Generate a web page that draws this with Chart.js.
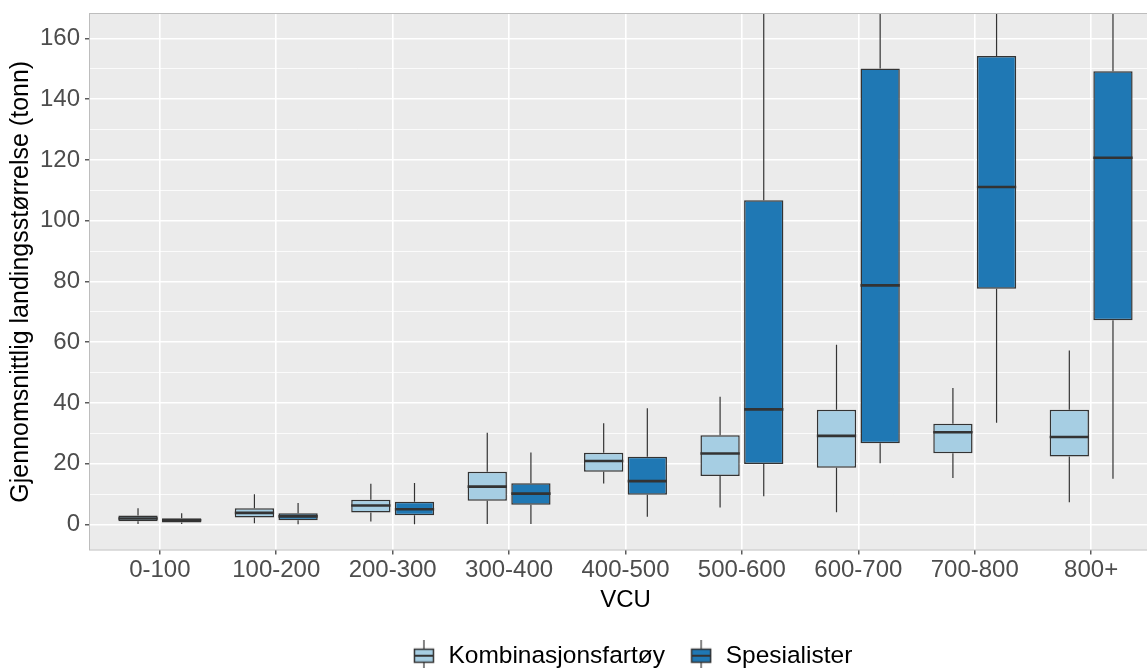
<!DOCTYPE html>
<html lang="no">
<head>
<meta charset="UTF-8">
<title>Landingsstørrelse etter VCU</title>
<script src="https://cdn.jsdelivr.net/npm/chart.js"></script>
<style>
  html, body { margin: 0; padding: 0; background: #fff; overflow: hidden; }
  #boxChart { display: block; }
</style>
</head>
<body>
<canvas id="boxChart" width="1264" height="678"></canvas>
<script>
// VCU groups on the x axis
const vcuGroups = ['0-100', '100-200', '200-300', '300-400', '400-500', '500-600', '600-700', '700-800', '800+'];

// Kombinasjonsfartøy: whisker low, Q1, median, Q3, whisker high (tonn)
const kombLow  = [0.2, 0.45, 1.0, 0.2, 13.5, 5.6, 4.05, 15.3, 7.35];
const kombQ1   = [1.1, 2.3, 3.95, 7.8, 17.4, 16.0, 18.7, 23.5, 22.4];
const kombMed  = [2.0, 3.85, 6.26, 12.5, 20.9, 23.4, 29.2, 30.4, 28.8];
const kombQ3   = [3.0, 5.4, 8.2, 17.4, 23.6, 29.4, 37.8, 33.2, 37.8];
const kombHigh = [5.4, 10.0, 13.4, 30.2, 33.3, 42.1, 59.2, 44.9, 57.3];

// Spesialister
const speLow  = [0.2, 0.1, 0.1, 0.2, 2.6, 9.3, 20.2, 33.5, 15.05];
const speQ1   = [0.66, 1.4, 3.07, 6.5, 9.8, 19.9, 26.8, 77.6, 67.2];
const speMed  = [1.4, 2.7, 5.05, 10.2, 14.3, 37.9, 78.7, 111.1, 120.7];
const speQ3   = [2.1, 3.7, 7.5, 13.6, 22.3, 106.7, 150.1, 154.2, 149.2];
const speHigh = [3.7, 7.1, 13.7, 23.7, 38.3, 190, 200, 195, 190];

const yTicks = [0, 10, 20, 30, 40, 50, 60, 70, 80, 90, 100, 110, 120, 130, 140, 150, 160];

const FONT = "'Liberation Sans', Arial, sans-serif";
const EDGE = '#333333';

function boxData(q1, q3) {
  return vcuGroups.map((_, i) => ({ x: i, y: [q1[i], q3[i]] }));
}

// small boxplot glyph used as legend key
function keyGlyph(fill) {
  const c = document.createElement('canvas');
  c.width = 22; c.height = 32;
  const g = c.getContext('2d');
  g.strokeStyle = EDGE;
  g.lineWidth = 1.2;
  g.beginPath(); g.moveTo(11, 0); g.lineTo(11, 32); g.stroke();
  g.fillStyle = fill;
  g.fillRect(1, 9, 20, 14);
  g.lineWidth = 1.5;
  g.strokeRect(1.5, 9.5, 19, 13);
  g.lineWidth = 2;
  g.beginPath(); g.moveTo(1, 16); g.lineTo(21, 16); g.stroke();
  return c;
}

const boxPlugin = {
  id: 'boxWhiskers',
  afterLayout(chart) {
    // centre the legend on the whole canvas, not just the padded area
    const lg = chart.legend;
    if (lg) { lg.left = 0; lg.right = chart.width; lg.width = chart.width; }
  },
  beforeDraw(chart) {
    const { ctx, chartArea: a } = chart;
    ctx.save();
    ctx.fillStyle = '#EBEBEB';
    ctx.fillRect(a.left, a.top, a.right - a.left, a.bottom - a.top);
    ctx.restore();
  },
  afterDatasetsDraw(chart) {
    const { ctx, chartArea: a, scales: { y } } = chart;
    ctx.save();
    ctx.beginPath();
    ctx.rect(a.left, a.top, a.right - a.left, a.bottom - a.top);
    ctx.clip();
    ctx.strokeStyle = EDGE;
    chart.data.datasets.forEach((ds, di) => {
      const meta = chart.getDatasetMeta(di);
      meta.data.forEach((bar, i) => {
        const { x, width } = bar.getProps(['x', 'width'], true);
        // whiskers
        ctx.lineWidth = 1.2;
        ctx.beginPath();
        ctx.moveTo(x, y.getPixelForValue(ds.high[i]));
        ctx.lineTo(x, y.getPixelForValue(ds.q3[i]));
        ctx.moveTo(x, y.getPixelForValue(ds.q1[i]));
        ctx.lineTo(x, y.getPixelForValue(ds.low[i]));
        ctx.stroke();
        // median
        ctx.lineWidth = 2.6;
        const ym = y.getPixelForValue(ds.med[i]);
        ctx.beginPath();
        ctx.moveTo(x - width / 2, ym);
        ctx.lineTo(x + width / 2, ym);
        ctx.stroke();
      });
    });
    ctx.restore();
  },
  afterDraw(chart) {
    const { ctx, chartArea: a } = chart;
    ctx.save();
    ctx.strokeStyle = '#BDBDBD';
    ctx.lineWidth = 1;
    ctx.strokeRect(a.left - 0.5, a.top - 0.5, a.right - a.left + 1, a.bottom - a.top + 1);
    ctx.restore();
  }
};

new Chart(document.getElementById('boxChart'), {
  type: 'bar',
  data: {
    datasets: [
      {
        label: 'Kombinasjonsfartøy',
        data: boxData(kombQ1, kombQ3),
        low: kombLow, q1: kombQ1, med: kombMed, q3: kombQ3, high: kombHigh,
        backgroundColor: '#A6CEE3',
        borderColor: EDGE,
        borderWidth: 1.5,
        borderSkipped: false,
        categoryPercentage: 0.75,
        barPercentage: 0.9,
        glyph: keyGlyph('#A6CEE3')
      },
      {
        label: 'Spesialister',
        data: boxData(speQ1, speQ3),
        low: speLow, q1: speQ1, med: speMed, q3: speQ3, high: speHigh,
        backgroundColor: '#1F78B4',
        borderColor: EDGE,
        borderWidth: 1.5,
        borderSkipped: false,
        categoryPercentage: 0.75,
        barPercentage: 0.9,
        glyph: keyGlyph('#1F78B4')
      }
    ]
  },
  options: {
    responsive: false,
    animation: false,
    layout: { padding: { left: 0, top: 14, right: 103, bottom: 0 } },
    plugins: {
      tooltip: { enabled: false },
      legend: {
        position: 'bottom',
        labels: {
          usePointStyle: true,
          padding: 24,
          color: '#000',
          font: { family: FONT, size: 24.5 },
          generateLabels: (chart) => chart.data.datasets.map((ds, i) => ({
            text: ds.label,
            pointStyle: ds.glyph,
            fillStyle: ds.backgroundColor,
            strokeStyle: EDGE,
            lineWidth: 0,
            hidden: false,
            datasetIndex: i
          }))
        }
      }
    },
    scales: {
      x: {
        type: 'linear',
        min: -0.6,
        max: 8.6,
        offset: false,
        afterBuildTicks: (scale) => { scale.ticks = vcuGroups.map((_, i) => ({ value: i })); },
        afterFit: (scale) => { scale.height = 70; },
        grid: {
          offset: false,
          color: '#FFFFFF',
          lineWidth: 1.6,
          drawTicks: true,
          tickLength: 5,
          tickColor: EDGE,
          tickWidth: 1.2
        },
        border: { display: false },
        ticks: {
          padding: 1,
          color: '#4D4D4D',
          font: { family: FONT, size: 24 },
          callback: (v) => vcuGroups[v]
        },
        title: {
          display: true,
          text: 'VCU',
          color: '#000',
          font: { family: FONT, size: 24 },
          padding: { top: 0, bottom: 5 }
        }
      },
      y: {
        min: -8.2,
        max: 168,
        afterBuildTicks: (scale) => { scale.ticks = yTicks.map(v => ({ value: v })); },
        afterFit: (scale) => {
          scale.width = 90;
          scale.paddingTop = 0;
          scale.paddingBottom = 0;
        },
        grid: {
          color: '#FFFFFF',
          lineWidth: (c) => (c.tick && c.tick.value % 20 === 0 ? 1.6 : 0.8),
          drawTicks: true,
          tickLength: 5,
          tickColor: (c) => (c.tick && c.tick.value % 20 === 0 ? EDGE : 'rgba(0,0,0,0)'),
          tickWidth: 1.2
        },
        border: { display: false },
        ticks: {
          padding: 5,
          color: '#4D4D4D',
          font: { family: FONT, size: 24 },
          callback: (v) => (v % 20 === 0 ? v : '')
        },
        title: {
          display: true,
          text: 'Gjennomsnittlig landingsstørrelse (tonn)',
          color: '#000',
          font: { family: FONT, size: 25 },
          padding: { top: 6, bottom: 0 }
        }
      }
    }
  },
  plugins: [boxPlugin]
});
</script>
</body>
</html>
